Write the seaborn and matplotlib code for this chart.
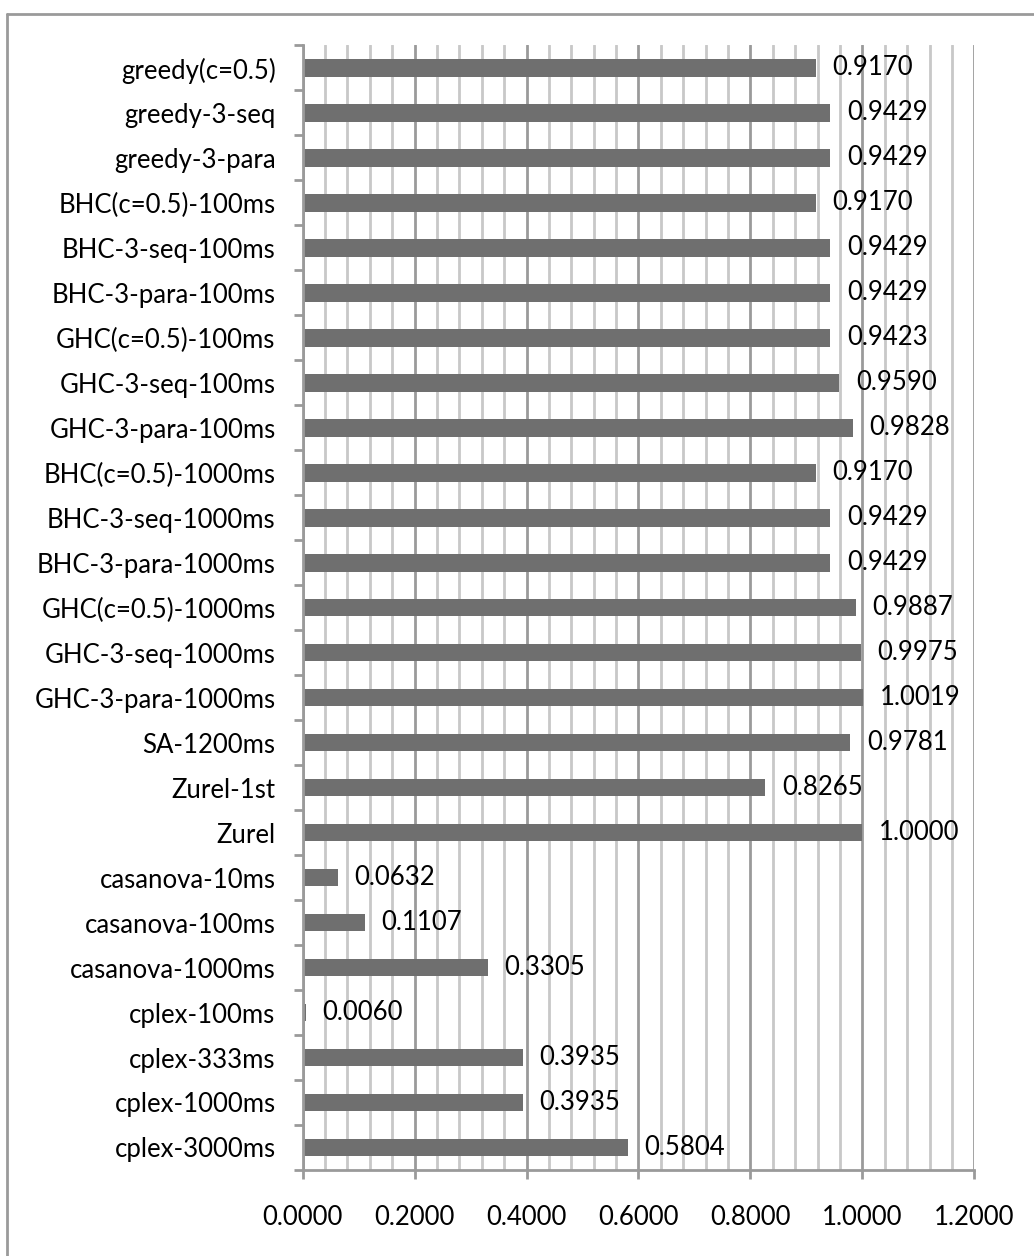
import matplotlib
matplotlib.use("Agg")
import matplotlib.pyplot as plt
import seaborn as sns
import pandas as pd
from matplotlib.ticker import MultipleLocator, FormatStrFormatter, FixedLocator
from matplotlib.lines import Line2D

categories = [
    "greedy(c=0.5)", "greedy-3-seq", "greedy-3-para",
    "BHC(c=0.5)-100ms", "BHC-3-seq-100ms", "BHC-3-para-100ms",
    "GHC(c=0.5)-100ms", "GHC-3-seq-100ms", "GHC-3-para-100ms",
    "BHC(c=0.5)-1000ms", "BHC-3-seq-1000ms", "BHC-3-para-1000ms",
    "GHC(c=0.5)-1000ms", "GHC-3-seq-1000ms", "GHC-3-para-1000ms",
    "SA-1200ms", "Zurel-1st", "Zurel",
    "casanova-10ms", "casanova-100ms", "casanova-1000ms",
    "cplex-100ms", "cplex-333ms", "cplex-1000ms", "cplex-3000ms",
]
values = [
    0.9170, 0.9429, 0.9429,
    0.9170, 0.9429, 0.9429,
    0.9423, 0.9590, 0.9828,
    0.9170, 0.9429, 0.9429,
    0.9887, 0.9975, 1.0019,
    0.9781, 0.8265, 1.0000,
    0.0632, 0.1107, 0.3305,
    0.0060, 0.3935, 0.3935, 0.5804,
]
x_ticks = [0.0, 0.2, 0.4, 0.6, 0.8, 1.0, 1.2]

sns.set_theme(style="white")
plt.rcParams['font.family'] = ['Lato', 'DejaVu Sans']
FS = 18.5
GRID_MAJOR = "#9A9A9A"
GRID_MINOR = "#C8C8C8"
BAR = "#6F6F6F"

fig = plt.figure(figsize=(10.34, 12.56), dpi=100)
ax = fig.add_axes([0.2927, 0.0685, 0.6496, 0.8953])

df = pd.DataFrame({"method": categories, "score": values})
sns.barplot(data=df, y="method", x="score", orient="h", color=BAR,
            saturation=1, width=0.39, ax=ax, zorder=3, linewidth=0)

ax.set_xlim(0, 1.2)
ax.set_ylim(len(categories) - 0.5, -0.5)
ax.xaxis.set_major_locator(FixedLocator(x_ticks))
ax.xaxis.set_minor_locator(MultipleLocator(0.04))
ax.xaxis.set_major_formatter(FormatStrFormatter("%.4f"))
ax.yaxis.set_minor_locator(FixedLocator([i - 0.5 for i in range(len(categories) + 1)]))

ax.set_axisbelow(True)
ax.grid(False)
ax.grid(axis="x", which="major", color=GRID_MAJOR, lw=2, zorder=0)
ax.grid(axis="x", which="minor", color=GRID_MINOR, lw=2, zorder=0)

for s in ["top", "right"]:
    ax.spines[s].set_visible(False)
for s in ["left", "bottom"]:
    ax.spines[s].set_color(GRID_MAJOR)
    ax.spines[s].set_linewidth(2)
    ax.spines[s].set_zorder(4)

ax.tick_params(axis="x", which="major", length=6.5, width=2, color=GRID_MAJOR,
               direction="out", pad=19, labelsize=FS, labelcolor="black", bottom=True)
ax.tick_params(axis="x", which="minor", length=0)
ax.tick_params(axis="y", which="major", length=0, pad=19.5, labelsize=FS, labelcolor="black")
ax.tick_params(axis="y", which="minor", length=6.5, width=2, color=GRID_MAJOR,
               direction="out", left=True)

ax.set_xlabel("")
ax.set_ylabel("")

ax.bar_label(ax.containers[0], fmt="%.4f", padding=12, fontsize=FS, color="black")

# outer chart border
fig.add_artist(Line2D([7 / 1034, 7 / 1034], [0, 1 - 14 / 1256], transform=fig.transFigure,
                      color=GRID_MAJOR, lw=2))
fig.add_artist(Line2D([7 / 1034, 1], [1 - 14 / 1256, 1 - 14 / 1256], transform=fig.transFigure,
                      color=GRID_MAJOR, lw=2))

fig.savefig("out.png", dpi=100)
